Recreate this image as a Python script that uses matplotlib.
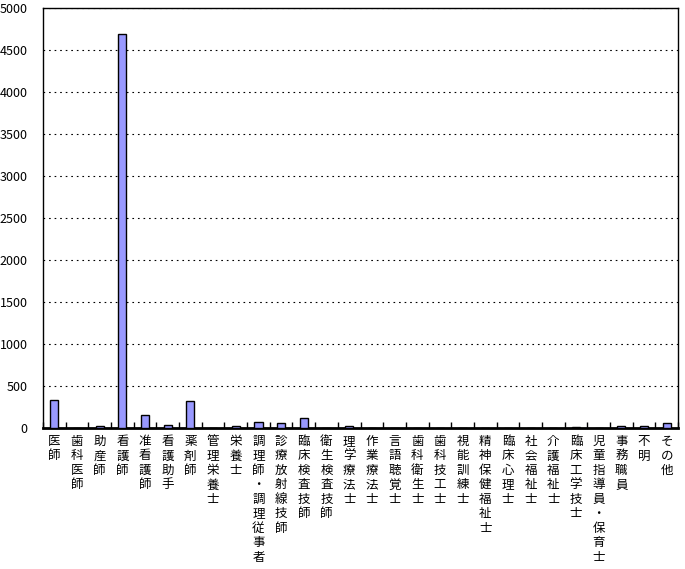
import matplotlib.pyplot as plt
import numpy as np

plt.rcParams['font.family'] = ['Noto Sans CJK JP', 'DejaVu Sans']

# data
jobs = ['医師', '歯科医師', '助産師', '看護師', '准看護師', '看護助手', '薬剤師',
        '管理栄養士', '栄養士', '調理師・調理従事者', '診療放射線技師', '臨床検査技師',
        '衛生検査技師', '理学療法士', '作業療法士', '言語聴覚士', '歯科衛生士',
        '歯科技工士', '視能訓練士', '精神保健福祉士', '臨床心理士', '社会福祉士',
        '介護福祉士', '臨床工学技士', '児童指導員・保育士', '事務職員', '不明', 'その他']
counts = [338, 0, 25, 4685, 158, 36, 316,
          0, 24, 72, 60, 120,
          0, 24, 0, 0, 0,
          0, 0, 0, 0, 0,
          0, 8, 0, 25, 25, 60]
yticks = [0, 500, 1000, 1500, 2000, 2500, 3000, 3500, 4000, 4500, 5000]

fig = plt.figure(figsize=(6.85, 5.69), dpi=100)
ax = fig.add_axes([43/685, 1-428/569, 635/685, 420/569])

x = np.arange(len(jobs))
ax.bar(x, counts, width=0.36, color='#9999ff', edgecolor='black', linewidth=1, zorder=3)

ax.set_xlim(-0.5, len(jobs)-0.5)
ax.set_ylim(0, 5000)
ax.set_yticks(yticks)
ax.set_yticklabels([str(v) for v in yticks], fontsize=9)
ax.tick_params(axis='y', length=0, pad=11)

# category boundaries as inward ticks, vertical labels as minor labels
ax.set_xticks(np.arange(len(jobs)+1) - 0.5)
ax.set_xticklabels([])
ax.tick_params(axis='x', which='major', direction='in', length=4, width=1)
ax.set_xticks(x, minor=True)
ax.set_xticklabels(['\n'.join(j) for j in jobs], minor=True, fontsize=9,
                   linespacing=1.15, va='top')
ax.tick_params(axis='x', which='minor', length=0, pad=5)

ax.yaxis.grid(True, color='black', linestyle=(0, (1.5, 3.5)), linewidth=0.8)
ax.set_axisbelow(True)
for s in ['top', 'right', 'left']:
    ax.spines[s].set_linewidth(1)
ax.spines['bottom'].set_linewidth(2)

fig.savefig('out.png', dpi=100)
